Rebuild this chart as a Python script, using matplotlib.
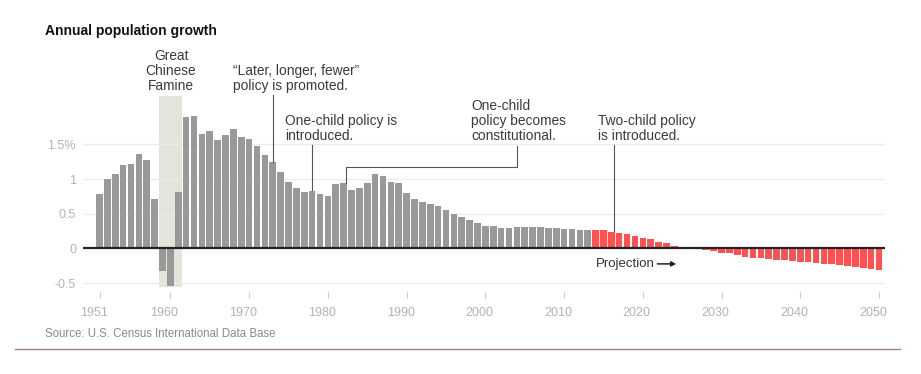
import matplotlib.pyplot as plt
import matplotlib.transforms as mtransforms
import numpy as np

# annual growth, percent
years_hist = list(range(1951, 2014))
growth_hist = [
    0.79, 1.00, 1.07, 1.20, 1.22, 1.36, 1.28, 0.71, -0.33, -0.54,
    0.81, 1.90, 1.91, 1.65, 1.70, 1.56, 1.64, 1.72, 1.61, 1.58,
    1.48, 1.35, 1.24, 1.10, 0.96, 0.87, 0.81, 0.83, 0.78, 0.75,
    0.93, 0.94, 0.84, 0.87, 0.94, 1.07, 1.05, 0.96, 0.94, 0.80,
    0.71, 0.67, 0.64, 0.61, 0.56, 0.49, 0.45, 0.41, 0.36, 0.33,
    0.32, 0.30, 0.30, 0.31, 0.31, 0.31, 0.31, 0.30, 0.29, 0.28,
    0.28, 0.26, 0.26,
]
years_proj = list(range(2014, 2051))
growth_proj = [
    0.26, 0.26, 0.24, 0.23, 0.205, 0.18, 0.15, 0.13, 0.10, 0.075,
    0.04, 0.02, 0.01, 0.005,
    -0.02, -0.04, -0.06, -0.07, -0.10, -0.12, -0.13, -0.14, -0.15,
    -0.16, -0.17, -0.18, -0.19, -0.20, -0.21, -0.22, -0.23, -0.24,
    -0.25, -0.26, -0.28, -0.30, -0.31,
]
xticks = [1951, 1960, 1970, 1980, 1990, 2000, 2010, 2020, 2030, 2040, 2050]
yticks = [-0.5, 0, 0.5, 1, 1.5]
ytick_labels = ["-0.5", "0", "0.5", "1", "1.5%"]
famine = (1958.5, 1961.5)

W, H = 921, 374
FONT = "Liberation Sans"


def px(x, y):
    # pixel position (from top left) -> figure fraction
    return x / W, 1 - y / H


fig = plt.figure(figsize=(W / 100, H / 100), dpi=100)
ax = fig.add_axes([83 / W, 1 - 292 / H, (885 - 83) / W, (292 - 40) / H])
ax.set_xlim(1948.9, 2050.76)
ax.set_ylim(-0.627, 3.004)

ax.axvspan(famine[0], famine[1], ymin=(-0.55 + 0.627) / 3.631,
           ymax=(2.197 + 0.627) / 3.631, color="#e4e4da", zorder=0, lw=0)

for y in [-0.5, 0.5, 1, 1.5]:
    ax.axhline(y, color="#ececec", lw=0.9, zorder=0.5)

ax.bar(years_hist, growth_hist, width=0.84, color="#999999", zorder=2)
ax.bar(years_proj, growth_proj, width=0.84, color="#ff5252", zorder=2)
ax.axhline(0, color="#222222", lw=1.6, zorder=3)

for s in ax.spines.values():
    s.set_visible(False)

ax.set_xticks(xticks)
ax.set_xticklabels([str(t) for t in xticks], fontfamily=FONT, fontsize=9,
                   color="#b3b3b3")
ax.tick_params(axis="x", length=4, width=0.8, color="#cccccc", pad=7)
shift = mtransforms.ScaledTranslation(-6 / 100, 0, fig.dpi_scale_trans)
for lab in ax.get_xticklabels():
    lab.set_transform(lab.get_transform() + shift)
ax.set_yticks(yticks)
ax.set_yticklabels(ytick_labels, fontfamily=FONT, fontsize=9, color="#b3b3b3")
ax.tick_params(axis="y", length=0, pad=5)

# annotations
txt = dict(fontfamily=FONT, fontsize=9.9, color="#3a3a3a", linespacing=1.08)
fig.text(*px(171, 93), "Great\nChinese\nFamine", ha="center", va="bottom", **txt)
fig.text(*px(233, 93), "\u201cLater, longer, fewer\u201d\npolicy is promoted.",
         ha="left", va="bottom", **txt)
fig.text(*px(285, 143), "One-child policy is\nintroduced.", ha="left",
         va="bottom", **txt)
fig.text(*px(471, 143), "One-child\npolicy becomes\nconstitutional.",
         ha="left", va="bottom", **txt)
fig.text(*px(598, 143), "Two-child policy\nis introduced.", ha="left",
         va="bottom", **txt)

line = dict(color="#555555", lw=0.8, clip_on=False, zorder=4)
ax.plot([1973, 1973], [1.25, 2.21], **line)
ax.plot([1978, 1978], [0.84, 1.49], **line)
ax.plot([1982.3, 1982.3, 2004, 2004], [0.95, 1.167, 1.167, 1.48], **line)
ax.plot([2016.3, 2016.3], [0.25, 1.49], **line)

fig.text(*px(596, 264), "Projection", ha="left", va="center",
         fontfamily=FONT, fontsize=9.5, color="#333333")
ax.annotate("", xy=(2024.6, -0.222), xytext=(2021.5, -0.222),
            arrowprops=dict(arrowstyle="-|>", color="#222222", lw=1.1,
                            mutation_scale=7))

fig.text(*px(45, 31), "Annual population growth", ha="left", va="center",
         fontfamily=FONT, fontsize=10, fontweight="bold", color="#111111")
fig.text(*px(45, 334), "Source: U.S. Census International Data Base",
         ha="left", va="center", fontfamily=FONT, fontsize=8.3, color="#8a8a8a")
fig.add_artist(plt.Line2D([15 / W, 900 / W], [1 - 349 / H, 1 - 349 / H],
                          color="#9c8580", lw=1))

fig.savefig("out.png", dpi=100)
